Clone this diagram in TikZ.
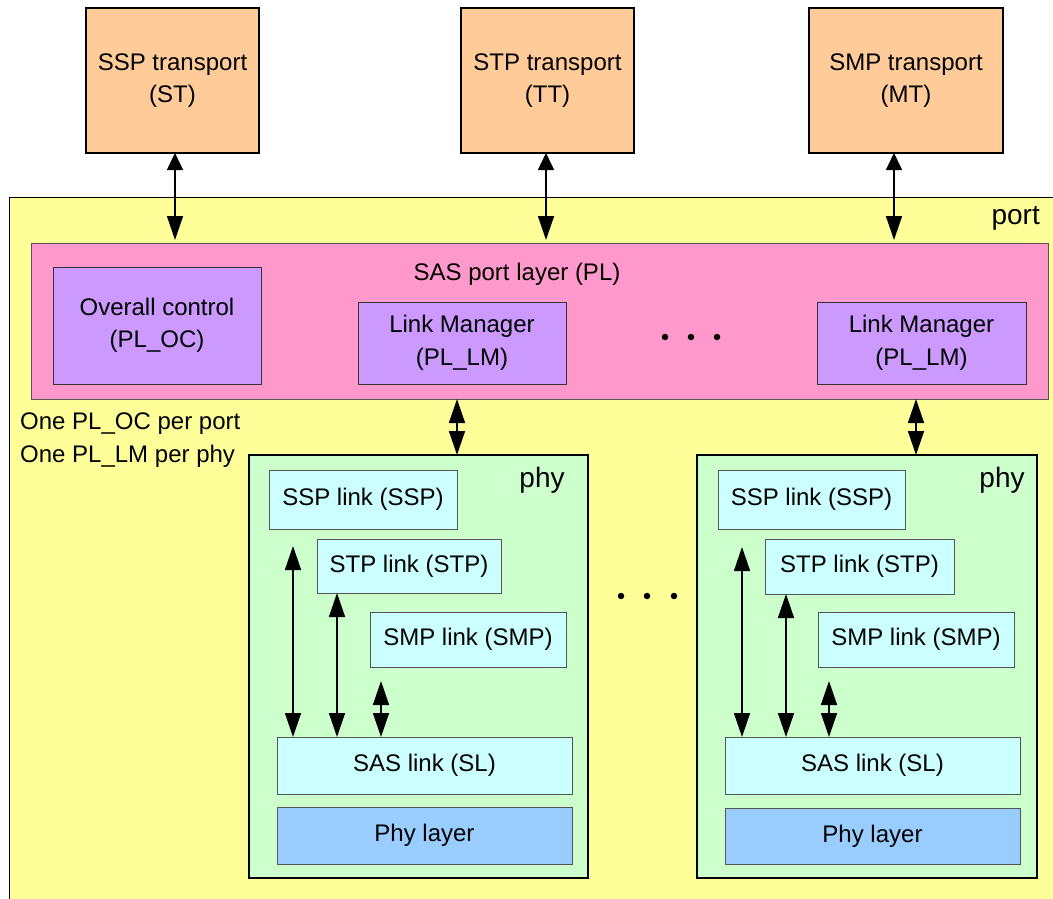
\documentclass[tikz,border=0pt]{standalone}
\usepackage{fontspec}
\setmainfont{Liberation Sans}
\usetikzlibrary{arrows.meta}
\definecolor{peach}{HTML}{FFCC99}
\definecolor{portyel}{HTML}{FFFF99}
\definecolor{plpink}{HTML}{FF99CC}
\definecolor{lmpurple}{HTML}{CC99FF}
\definecolor{phygreen}{HTML}{CCFFCC}
\definecolor{linkcyan}{HTML}{CCFFFF}
\definecolor{phyblue}{HTML}{99CCFF}
\definecolor{edgegray}{HTML}{555555}
\tikzset{
  box/.style={rectangle, inner sep=0pt, outer sep=0pt, align=center,
    font=\fontsize{24}{32.5}\selectfont},
  transp/.style={box, fill=peach, draw=black, line width=1.5pt},
  plbox/.style={box, fill=plpink, draw=edgegray, line width=1pt},
  lmbox/.style={box, fill=lmpurple, draw=black!80, line width=1pt},
  phybox/.style={box, fill=phygreen, draw=black, line width=2pt},
  linkbox/.style={box, fill=linkcyan, draw=edgegray, line width=1pt},
  layerbox/.style={box, fill=phyblue, draw=edgegray, line width=1pt},
  txt/.style={inner sep=0pt, font=\fontsize{24}{32.5}\selectfont},
  bigtxt/.style={inner sep=0pt, font=\fontsize{28}{34}\selectfont},
  arr/.style={line width=1.5pt, {Triangle[length=24pt,width=16pt]}-{Triangle[length=24pt,width=16pt]}},
  arrtop/.style={line width=1.5pt, {Triangle[length=17pt,width=16pt]}-{Triangle[length=24pt,width=16pt]}},
  dotmark/.style={circle, fill=black, inner sep=0pt, minimum size=6.5pt},
}
\begin{document}
\begin{tikzpicture}[x=1pt, y=-1pt]
\useasboundingbox (0,0) rectangle (1053,899);
\clip (0,0) rectangle (1053,899);
\fill[white] (0,0) rectangle (1053,899);

% transport boxes
\node[transp, minimum width=173pt, minimum height=145pt] (ST) at (172.5,80.5) {SSP transport\\(ST)};
\node[transp, minimum width=173pt, minimum height=145pt] (TT) at (547.5,80.5) {STP transport\\(TT)};
\node[transp, minimum width=194pt, minimum height=145pt] (MT) at (906,80.5) {SMP transport\\(MT)};

% port
\node[box, fill=portyel, draw=black, line width=1pt, minimum width=1061pt, minimum height=718pt] (port) at (539.5,556) {};
\node[bigtxt, anchor=east] (portlbl) at (1040,218) {port};

% port layer
\node[plbox, minimum width=1017pt, minimum height=156pt] (PL) at (539.5,321) {};
\node[txt] (PLlbl) at (517,274) {SAS port layer (PL)};
\node[lmbox, minimum width=208pt, minimum height=117pt] (OC) at (157,325.5) {Overall control\\(PL\_OC)};
\node[lmbox, minimum width=208pt, minimum height=82pt] (LM1) at (462,343) {Link Manager\\(PL\_LM)};
\node[lmbox, minimum width=209pt, minimum height=82pt] (LM2) at (921.5,343) {Link Manager\\(PL\_LM)};
\node[dotmark] (d1) at (665,337) {};
\node[dotmark] (d2) at (691,337) {};
\node[dotmark] (d3) at (717,337) {};

\node[txt, anchor=west] (note1) at (20,424) {One PL\_OC per port};
\node[txt, anchor=west] (note2) at (20,456) {One PL\_LM per phy};

% phy 1
\node[phybox, minimum width=339pt, minimum height=423pt] (phy1) at (418.5,666.5) {};
\node[bigtxt] (phy1lbl) at (542,480) {phy};
\node[linkbox, minimum width=188pt, minimum height=59pt] (SSP1) at (363,499.5) {SSP link (SSP)};
\node[linkbox, minimum width=184pt, minimum height=54pt] (STP1) at (409,566) {STP link (STP)};
\node[linkbox, minimum width=196pt, minimum height=55pt] (SMP1) at (468,639.5) {SMP link (SMP)};
\node[linkbox, minimum width=295pt, minimum height=57pt] (SL1) at (424.5,765.5) {SAS link (SL)};
\node[layerbox, minimum width=295pt, minimum height=57pt] (PHY1) at (424.5,835.5) {Phy layer};

% phy 2
\node[phybox, minimum width=340pt, minimum height=423pt] (phy2) at (867,666.5) {};
\node[bigtxt] (phy2lbl) at (1002,480) {phy};
\node[linkbox, minimum width=187pt, minimum height=59pt] (SSP2) at (811.5,499.5) {SSP link (SSP)};
\node[linkbox, minimum width=189pt, minimum height=55pt] (STP2) at (859.5,566.5) {STP link (STP)};
\node[linkbox, minimum width=196pt, minimum height=55pt] (SMP2) at (916,639.5) {SMP link (SMP)};
\node[linkbox, minimum width=295pt, minimum height=57pt] (SL2) at (872.5,765.5) {SAS link (SL)};
\node[layerbox, minimum width=295pt, minimum height=56pt] (PHY2) at (872.5,836) {Phy layer};

\node[dotmark] (e1) at (621,596) {};
\node[dotmark] (e2) at (647,596) {};
\node[dotmark] (e3) at (674,596) {};

% connector end points
\coordinate (stx) at (175,240);
\coordinate (ttx) at (546,240);
\coordinate (mtx) at (894,240);
\coordinate (lm1x) at (457,0);
\coordinate (lm2x) at (916,0);
\coordinate (a1top) at (293,546);
\coordinate (a2x) at (337,0);
\coordinate (a3top) at (381,681);
\coordinate (b1top) at (742,547);
\coordinate (b2x) at (786,0);
\coordinate (b3top) at (829,681);

% arrows
\draw[arrtop] (ST.south -| stx) -- (stx);
\draw[arrtop] (TT.south -| ttx) -- (ttx);
\draw[arrtop] (MT.south -| mtx) -- (mtx);
\draw[arr] (PL.south -| lm1x) -- (phy1.north -| lm1x);
\draw[arr] (PL.south -| lm2x) -- (phy2.north -| lm2x);

\draw[arr] (a1top) -- (SL1.north -| a1top);
\draw[arr] (STP1.south -| a2x) -- (SL1.north -| a2x);
\draw[arr] (a3top) -- (SL1.north -| a3top);

\draw[arr] (b1top) -- (SL2.north -| b1top);
\draw[arr] (STP2.south -| b2x) -- (SL2.north -| b2x);
\draw[arr] (b3top) -- (SL2.north -| b3top);
\end{tikzpicture}
\end{document}
